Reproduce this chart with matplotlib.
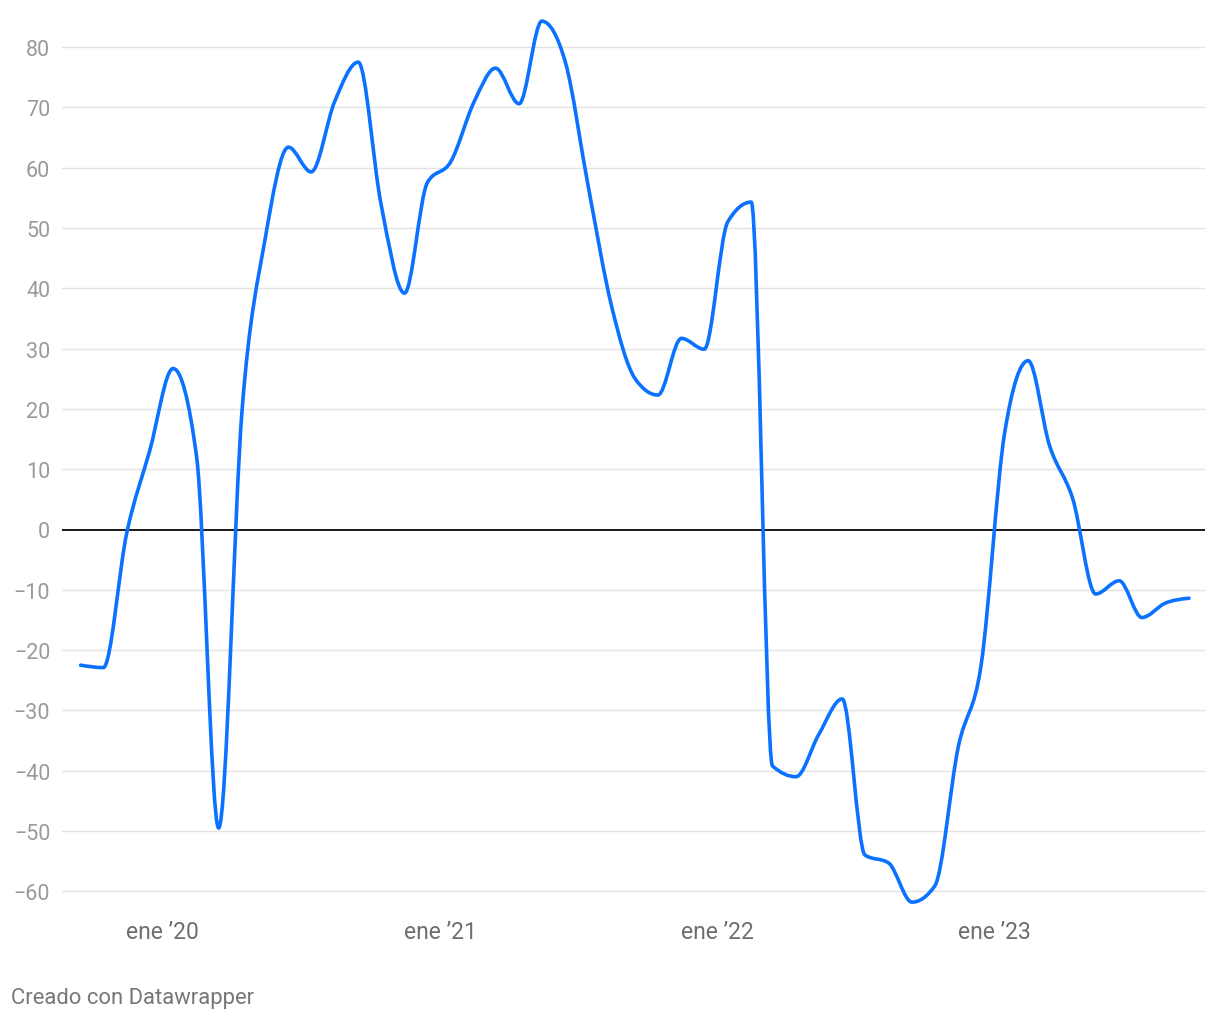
import matplotlib
matplotlib.use("Agg")
import matplotlib.pyplot as plt
import matplotlib.dates as mdates
import numpy as np
import pandas as pd
from matplotlib.path import Path
from matplotlib.patches import PathPatch

plt.rcParams['font.family'] = ['Roboto', 'DejaVu Sans']

# monthly points, Sep 2019 - Sep 2023 (mid-month)
months = pd.date_range("2019-09-01", "2023-09-01", freq="MS") + pd.Timedelta(days=14)
values = [-22.5, -22.9, -0.5, 13, 26.7, 12, -49.5, 20, 48, 63.4, 59.3, 71,
          77.5, 54, 39.2, 57.5, 61, 71, 76.5, 70.6, 84.3, 77.5, 57, 37,
          25, 22.3, 31.7, 29.9, 51, 54.3, -39.2, -41, -34, -28.1, -54, -55.3,
          -61.8, -59.1, -36, -22.5, 16, 28, 14, 5, -10.7, -8.5, -14.6, -12.2,
          -11.4]

yticks = list(range(-60, 81, 10))
xtick_dates = pd.to_datetime(["2020-01-01", "2021-01-01", "2022-01-01", "2023-01-01"])
xtick_labels = ["ene \u201920", "ene \u201921", "ene \u201922", "ene \u201923"]


def monotone_path(x, y):
    # same idea as d3.curveMonotoneX: cubic bezier segments
    x = np.asarray(x, float)
    y = np.asarray(y, float)
    n = len(x)
    h = np.diff(x)
    s = np.diff(y) / h
    t = np.zeros(n)
    for i in range(1, n - 1):
        p = (s[i - 1] * h[i] + s[i] * h[i - 1]) / (h[i - 1] + h[i])
        t[i] = (np.sign(s[i - 1]) + np.sign(s[i])) * min(abs(s[i - 1]), abs(s[i]), 0.5 * abs(p))
    t[0] = (3 * s[0] - t[1]) / 2
    t[-1] = (3 * s[-1] - t[-2]) / 2
    verts = [(x[0], y[0])]
    codes = [Path.MOVETO]
    for i in range(n - 1):
        dx = h[i] / 3
        verts += [(x[i] + dx, y[i] + dx * t[i]), (x[i + 1] - dx, y[i + 1] - dx * t[i + 1]), (x[i + 1], y[i + 1])]
        codes += [Path.CURVE4] * 3
    return Path(verts, codes)


W, H = 1220, 1020
fig = plt.figure(figsize=(W / 100, H / 100), dpi=100)
ymin, ymax = -63, 86
# pixel mapping: 0 at y=530.5, 6.03 px per unit
top_px = 530.5 - 6.03 * ymax
bot_px = 530.5 - 6.03 * ymin
ax = fig.add_axes([62 / W, 1 - bot_px / H, (1205 - 62) / W, (bot_px - top_px) / H])

d0 = mdates.date2num(pd.Timestamp("2020-01-01"))
px_day = (994 - 162.5) / 1096
ax.set_xlim(d0 + (62 - 162.5) / px_day, d0 + (1205 - 162.5) / px_day)
ax.set_ylim(ymin, ymax)

for v in yticks:
    if v == 0:
        ax.axhline(0, color="#1a1a1a", lw=1.4, zorder=2)
    else:
        ax.axhline(v, color="#e3e3e3", lw=1.0, zorder=1)

xnum = mdates.date2num(months)
ax.add_patch(PathPatch(monotone_path(xnum, values), fill=False, edgecolor="#0a72ff",
                       lw=2.6, capstyle="round", joinstyle="round", zorder=3))

for s in ax.spines.values():
    s.set_visible(False)
ax.set_yticks(yticks)
ax.set_yticklabels([str(v).replace("-", "\u2212") for v in yticks])
ax.set_xticks(mdates.date2num(xtick_dates))
ax.set_xticklabels(xtick_labels)
ax.tick_params(axis="y", length=0, pad=8.5, labelsize=15.5, labelcolor="#9a9a9a")
ax.tick_params(axis="x", length=0, pad=7.5, labelsize=16.5, labelcolor="#6e6e6e")

fig.text(11 / W, 1 - 999 / H, "Creado con Datawrapper", fontsize=15.8, color="#777777",
         ha="left", va="center")

fig.savefig("out.png", dpi=100, facecolor="white")
